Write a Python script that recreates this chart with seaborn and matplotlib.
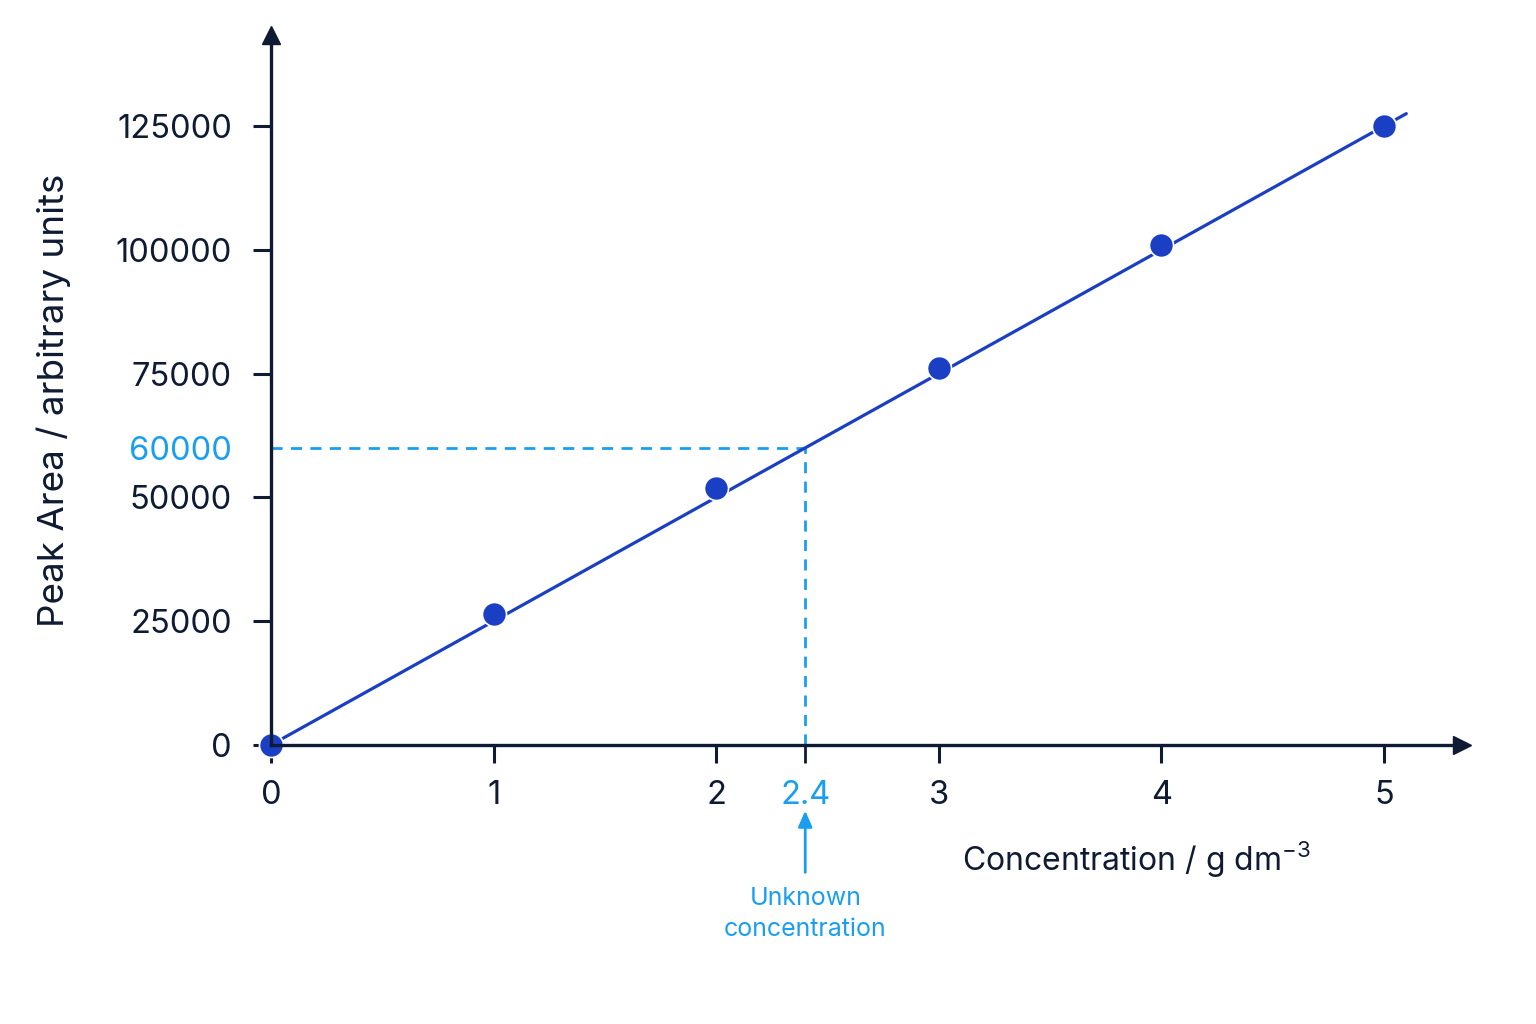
import matplotlib
matplotlib.use("Agg")
import matplotlib.pyplot as plt
import seaborn as sns
import pandas as pd

# ---- data ----
conc = [0, 1, 2, 3, 4, 5]
peak_area = [0, 26400, 51800, 76100, 101000, 125000]
fit_x = [0, 5.1]
fit_y = [0, 127500]
unknown_area = 60000
unknown_conc = 2.4
x_ticks = [0, 1, 2, 3, 4, 5]
y_ticks = [0, 25000, 50000, 75000, 100000, 125000]

sns.set_theme(style="white")
plt.rcParams['font.family'] = ['Inter', 'DejaVu Sans']
plt.rcParams['mathtext.default'] = 'regular'

DARK = "#0f1a33"
BLUE = "#1a3fc4"
LIGHT = "#1a9ff0"

fig = plt.figure(figsize=(15.36, 10.24), dpi=100)
ax = fig.add_axes([0.1764, 0.2725, 0.7754, 0.6934])

df_pts = pd.DataFrame({"conc": conc, "area": peak_area})
df_fit = pd.DataFrame({"conc": fit_x, "area": fit_y})

# dashed guide lines
ax.plot([0, unknown_conc], [unknown_area, unknown_area], ls=(0, (4, 3)), color=LIGHT, lw=2, zorder=2)
ax.plot([unknown_conc, unknown_conc], [0, unknown_area], ls=(0, (4, 3)), color=LIGHT, lw=2, zorder=2)

sns.lineplot(data=df_fit, x="conc", y="area", ax=ax, color=BLUE, lw=2.3, zorder=3)
sns.scatterplot(data=df_pts, x="conc", y="area", ax=ax, color=BLUE, s=300,
                edgecolor="white", linewidth=1.2, zorder=4, clip_on=False)

ax.set_xlim(0, 5.35)
ax.set_ylim(0, 143400)

for s in ["top", "right"]:
    ax.spines[s].set_visible(False)
for s in ["left", "bottom"]:
    ax.spines[s].set_color(DARK)
    ax.spines[s].set_linewidth(2.4)
    ax.spines[s].set_zorder(5)

# axis arrows
ax.plot(1, 0, marker=">", color=DARK, markersize=13, transform=ax.transAxes, clip_on=False, zorder=6)
ax.plot(0, 1, marker="^", color=DARK, markersize=13, transform=ax.transAxes, clip_on=False, zorder=6)

xt = x_ticks[:3] + [unknown_conc] + x_ticks[3:]
ax.set_xticks(xt)
ax.set_xticklabels([str(v) for v in xt])
yt = y_ticks[:3] + [unknown_area] + y_ticks[3:]
ax.set_yticks(yt)
ax.set_yticklabels([str(v) for v in yt])

ax.tick_params(axis="both", which="major", direction="out", length=13, width=2.2,
               colors=DARK, labelsize=23.5, pad=12, bottom=True, left=True)
ax.tick_params(axis="y", pad=15)

for lbl, t in zip(ax.get_xticklabels(), ax.xaxis.get_major_ticks()):
    if lbl.get_text() == "2.4":
        lbl.set_color(LIGHT)
        t.tick1line.set_color(LIGHT)
        t.tick1line.set_markeredgewidth(2)
for lbl, t in zip(ax.get_yticklabels(), ax.yaxis.get_major_ticks()):
    if lbl.get_text() == "60000":
        lbl.set_color(LIGHT)
        t.tick1line.set_visible(False)

ax.set_ylabel("Peak Area / arbitrary units", fontsize=26.5, color=DARK)
ax.yaxis.set_label_coords(-0.168, 0.486)
ax.set_xlabel("Concentration / g dm$^{-3}$", fontsize=23, color=DARK)
ax.xaxis.set_label_coords(0.727, -0.133)

ax.annotate("", xy=(unknown_conc, -12700), xytext=(unknown_conc, -26300),
            arrowprops=dict(arrowstyle="-|>,head_width=0.35,head_length=0.8", color=LIGHT, lw=2),
            annotation_clip=False)
ax.text(unknown_conc, -28600, "Unknown\nconcentration", ha="center", va="top",
        fontsize=18, color=LIGHT, linespacing=1.45)

fig.savefig("out.png", dpi=100, facecolor="white")
